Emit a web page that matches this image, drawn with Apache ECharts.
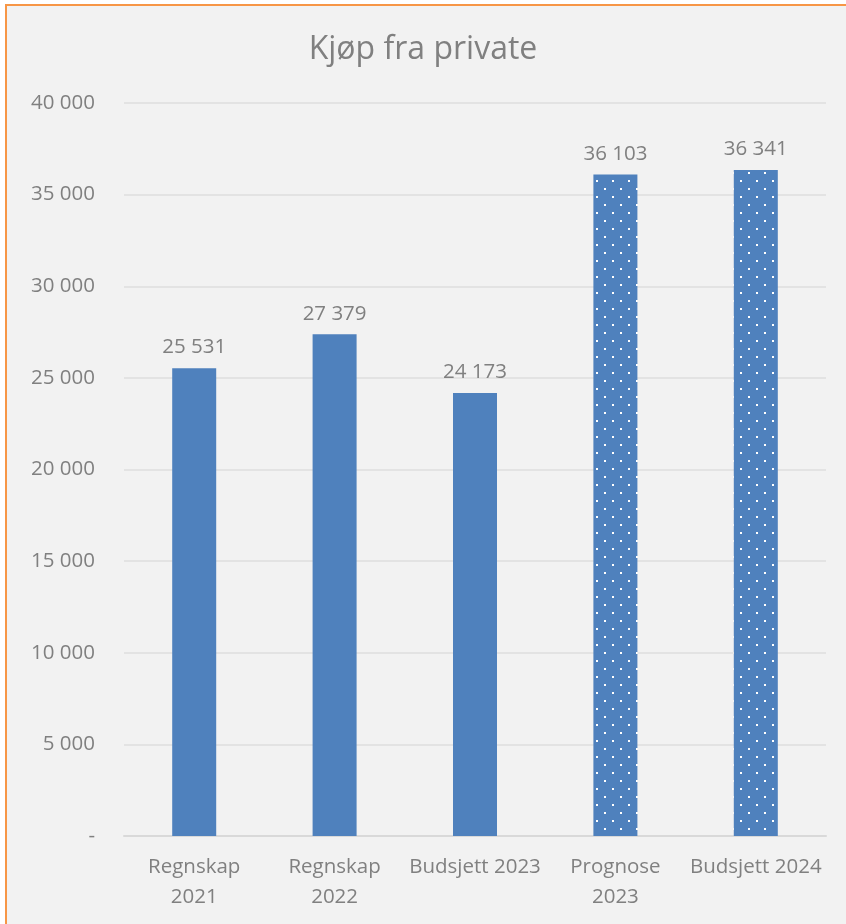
<!DOCTYPE html>
<html><head><meta charset="utf-8">
<script src="https://cdn.jsdelivr.net/npm/echarts@6/dist/echarts.min.js"></script>
<style>html,body{margin:0;padding:0;background:#fff;}#c{width:846px;height:924px;}</style>
</head><body><div id="c"></div>
<script>
const title = 'Kjøp fra private';
const categories = ['Regnskap\n2021', 'Regnskap\n2022', 'Budsjett 2023', 'Prognose\n2023', 'Budsjett 2024'];
const values = [25531, 27379, 24173, 36103, 36341];
const patterned = [false, false, false, true, true];
const yTicks = [0, 5000, 10000, 15000, 20000, 25000, 30000, 35000, 40000];

const blue = '#4f81bd';
const cv = document.createElement('canvas');
cv.width = 16; cv.height = 16;
const cx = cv.getContext('2d');
cx.fillStyle = blue; cx.fillRect(0, 0, 16, 16);
cx.fillStyle = '#ffffff';
cx.fillRect(4, 4, 2, 2); cx.fillRect(12, 12, 2, 2);

const fmt = v => v === 0 ? '-' : String(v).replace(/\B(?=(\d{3})+(?!\d))/g, ' ');
const font = 'Open Sans';
const grey = '#808080';

const chart = echarts.init(document.getElementById('c'), null, {renderer: 'canvas'});
chart.setOption({
  backgroundColor: '#ffffff',
  animation: false,
  graphic: [{type: 'rect', z: -10, silent: true, shape: {x: 6, y: 5, width: 860, height: 940},
    style: {fill: '#f2f2f2', stroke: '#f79646', lineWidth: 2}}],
  title: {text: title, left: 'center', top: 29, textStyle: {fontFamily: font, fontSize: 32, fontWeight: 'normal', color: grey}},
  grid: {left: 124, right: 20, top: 103, bottom: 88, containLabel: false},
  xAxis: {type: 'category', data: categories,
    axisLine: {lineStyle: {color: '#d9d9d9', width: 2}}, axisTick: {show: false},
    axisLabel: {fontFamily: font, fontSize: 20.5, color: grey, margin: 16, lineHeight: 30, interval: 0}},
  yAxis: {type: 'value', min: yTicks[0], max: yTicks[yTicks.length - 1], interval: 5000,
    axisLine: {show: false}, axisTick: {show: false},
    splitLine: {lineStyle: {color: '#e3e3e3', width: 2}},
    axisLabel: {fontFamily: font, fontSize: 20.5, color: grey, margin: 29, formatter: fmt}},
  series: [{type: 'bar', barWidth: 44,
    data: values.map((v, i) => ({value: v, itemStyle: {color: patterned[i] ? {image: cv, repeat: 'repeat'} : blue}})),
    label: {show: true, position: 'top', distance: 10, fontFamily: font, fontSize: 20.5, color: grey, formatter: p => fmt(p.value)}}]
});
</script></body></html>
